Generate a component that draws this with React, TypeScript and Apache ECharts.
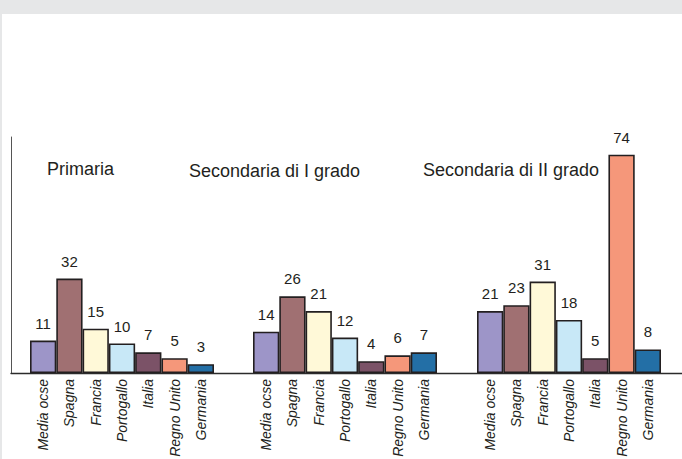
import React, { useEffect, useRef } from "react";
import * as echarts from "echarts";

const countries = ["Media ocse", "Spagna", "Francia", "Portogallo", "Italia", "Regno Unito", "Germania"];
const countryColors = ["#9d95c8", "#a07072", "#fff9d8", "#c8e8f7", "#7b5267", "#f5977a", "#236fa6"];
const groupTitles = ["Primaria", "Secondaria di I grado", "Secondaria di II grado"];
const primaria = [11, 32, 15, 10, 7, 5, 3];
const secondariaI = [14, 26, 21, 12, 4, 6, 7];
const secondariaII = [21, 23, 31, 18, 5, 74, 8];
const groupValues = [primaria, secondariaI, secondariaII];

const FONT = "'Liberation Sans', Arial, sans-serif";
const TXT = "#231f20";

export default function App() {
  const ref = useRef<HTMLDivElement>(null);
  useEffect(() => {
    if (!ref.current) return;
    const chart = echarts.init(ref.current, null, { renderer: "svg" });
    const groupLefts = [30, 253, 477];
    const groupWidth = 184;
    const top = 137;
    const bottom = 459 - 373;

    const grids: any[] = groupLefts.map((l) => ({
      left: l,
      width: groupWidth,
      top,
      bottom,
      containLabel: false,
      outerBoundsMode: "none",
    }));
    grids.push({ left: 11, right: 0, top, bottom, containLabel: false, outerBoundsMode: "none" });

    const xAxes: any[] = groupLefts.map((_, i) => ({
      type: "category",
      gridIndex: i,
      data: countries,
      axisLine: { show: false },
      axisTick: { show: false },
      axisLabel: {
        interval: 0,
        rotate: 90,
        margin: 6,
        fontStyle: "italic",
        fontSize: 14,
        fontFamily: FONT,
        color: TXT,
      },
    }));
    xAxes.push({
      type: "value",
      gridIndex: 3,
      min: 0,
      max: 1,
      axisLine: { show: true, lineStyle: { color: "#2b2b2b", width: 1.3 } },
      axisTick: { show: false },
      axisLabel: { show: false },
      splitLine: { show: false },
    });

    const yAxes: any[] = [0, 1, 2].map((i) => ({
      type: "value",
      gridIndex: i,
      min: 0,
      max: 80,
      show: false,
    }));
    yAxes.push({
      type: "value",
      gridIndex: 3,
      min: 0,
      max: 80,
      axisLine: { show: true, lineStyle: { color: "#555555", width: 1 } },
      axisTick: { show: false },
      axisLabel: { show: false },
      splitLine: { show: false },
    });

    const series: any[] = groupValues.map((vals, i) => ({
      type: "bar",
      xAxisIndex: i,
      yAxisIndex: i,
      barCategoryGap: "0%",
      data: vals.map((v, j) => ({
        value: v,
        itemStyle: { color: countryColors[j] },
      })),
      itemStyle: { borderColor: "#231f20", borderWidth: 1.6 },
      label: {
        show: true,
        position: "top",
        distance: 10,
        fontSize: 15,
        fontFamily: FONT,
        color: TXT,
      },
    }));

    const titlePos = [
      { x: 47, y: 169 },
      { x: 189, y: 171 },
      { x: 423, y: 170 },
    ];

    chart.setOption({
      animation: false,
      backgroundColor: "#ffffff",
      grid: grids,
      xAxis: xAxes,
      yAxis: yAxes,
      series,
      graphic: [
        { type: "rect", left: 0, top: 0, shape: { width: 682, height: 14 }, style: { fill: "#e6e7e8" } },
        { type: "rect", left: 0, top: 0, shape: { width: 2, height: 459 }, style: { fill: "#e6e7e8" } },
        ...groupTitles.map((t, i) => ({
          type: "text",
          x: titlePos[i].x,
          y: titlePos[i].y,
          style: {
            text: t,
            fontSize: 18,
            fontFamily: FONT,
            fill: TXT,
            verticalAlign: "middle",
          },
        })),
      ],
    });
    return () => chart.dispose();
  }, []);
  return <div ref={ref} style={{ position: "fixed", left: 0, top: 0, width: 682, height: 459 }} />;
}
